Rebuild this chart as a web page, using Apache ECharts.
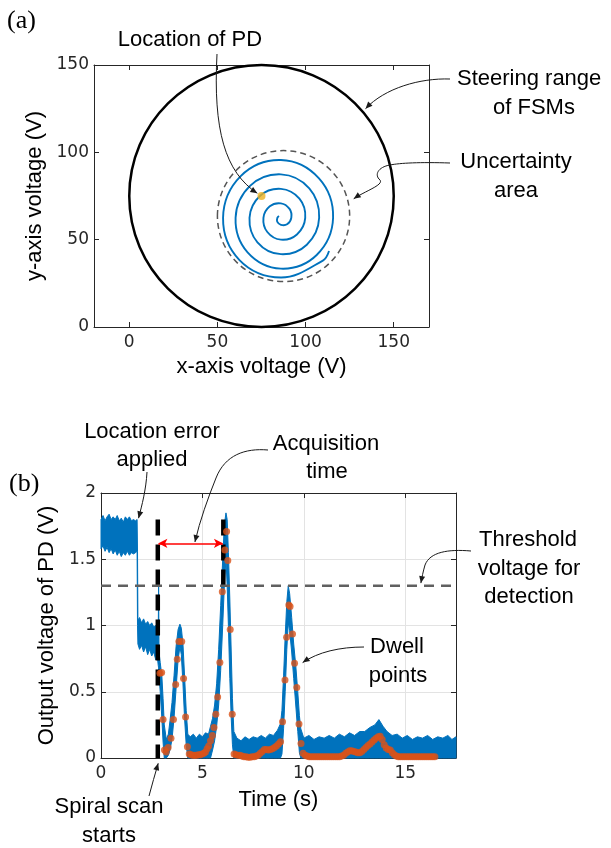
<!DOCTYPE html>
<html><head><meta charset="utf-8">
<script src="https://cdn.jsdelivr.net/npm/echarts@6/dist/echarts.min.js"></script>
<style>html,body{margin:0;padding:0;background:#fff}#c{width:611px;height:848px}</style>
</head><body><div id="c"></div>
<script>
// ---------------- panel (a) data ----------------
const aXTicks = [0, 50, 100, 150];
const aYTicks = [0, 50, 100, 150];
const steeringCircle = [75, 75, 75];        // cx, cy, r (V)
const uncertaintyCircle = [87.5, 63.5, 37.5];
const pdLocation = [75, 75];
const spiralX = [84.9, 84.0, 83.9, 86.0, 89.5, 91.9, 90.9, 86.0, 79.7, 76.1, 78.3, 86.0, 95.1, 99.8, 96.5, 86.0, 74.1, 68.2, 72.7, 86.0, 100.7, 107.7, 102.1, 86.0, 68.5, 60.3, 67.1, 86.0, 106.3, 115.6, 107.6, 86.0, 63.2, 53.2, 62.5, 86.0, 109.8, 113.3];
const spiralY = [63.6, 62.5, 60.3, 58.5, 58.8, 62.5, 67.6, 70.8, 69.1, 62.5, 54.4, 50.0, 53.0, 62.5, 73.5, 79.1, 75.0, 62.5, 48.5, 41.7, 47.1, 62.5, 79.4, 87.4, 80.8, 62.5, 42.7, 33.4, 41.2, 62.5, 85.1, 95.6, 86.4, 62.5, 38.3, 28.3, 38.0, 43.5];

// ---------------- panel (b) data ----------------
const bXTicks = [0, 5, 10, 15];
const bYTicks = [0, 0.5, 1, 1.5, 2];
// PD output: envelope of the noisy trace (time, lower edge, upper edge)
const sigT  = [0.00,0.10,0.20,0.30,0.40,0.50,0.60,0.70,0.80,0.90,1.00,1.10,1.20,1.30,1.40,1.50,1.60,1.70,1.78,1.80,1.82,1.90,2.00,2.10,2.20,2.30,2.40,2.50,2.60,2.70,2.78,2.82,2.84,2.86,2.92,3.00,3.06,3.12,3.22,3.32,3.40,3.50,3.60,3.70,3.80,3.89,3.96,4.04,4.12,4.20,4.28,4.40,4.55,4.70,4.85,5.00,5.15,5.30,5.40,5.50,5.60,5.70,5.80,5.90,6.00,6.08,6.16,6.22,6.28,6.35,6.42,6.48,6.55,6.70,6.90,7.10,7.30,7.50,7.70,7.90,8.10,8.30,8.50,8.70,8.85,8.92,9.00,9.08,9.16,9.23,9.30,9.40,9.50,9.60,9.70,9.78,9.85,10.00,10.25,10.50,10.75,11.00,11.25,11.50,11.75,12.00,12.25,12.50,12.75,13.00,13.25,13.50,13.70,13.90,14.10,14.35,14.60,14.85,15.10,15.35,15.60,15.85,16.10,16.35,16.60,16.85,17.10,17.30,17.50];
const sigLo = [1.58,1.60,1.56,1.59,1.55,1.58,1.54,1.57,1.53,1.56,1.52,1.55,1.53,1.56,1.53,1.55,1.54,1.55,1.56,1.00,0.86,0.82,0.85,0.80,0.84,0.78,0.82,0.77,0.80,0.74,0.76,0.70,0.68,0.62,0.50,0.30,0.12,0.00,0.00,0.02,0.06,0.14,0.30,0.52,0.74,0.84,0.78,0.56,0.30,0.10,0.00,0,0,0,0,0,0,0,0,0.06,0.13,0.24,0.40,0.66,1.00,1.30,1.50,1.30,1.00,0.60,0.30,0.10,0,0,0,0,0,0,0,0,0,0,0,0,0,0.03,0.22,0.50,0.82,1.02,0.96,0.80,0.60,0.40,0.20,0.04,0,0,0,0,0,0,0,0,0,0,0,0,0,0,0,0,0,0,0,0,0,0,0,0,0,0,0,0,0,0,0,0,0];
const sigHi = [1.80,1.83,1.79,1.82,1.84,1.80,1.82,1.80,1.83,1.79,1.81,1.78,1.82,1.80,1.82,1.79,1.80,1.79,1.80,1.56,1.04,1.06,1.02,1.05,1.01,1.03,1.00,1.02,0.99,1.00,0.97,0.90,1.30,0.80,0.72,0.62,0.45,0.25,0.14,0.18,0.28,0.42,0.62,0.84,0.97,1.01,0.98,0.86,0.62,0.36,0.18,0.16,0.18,0.15,0.18,0.16,0.19,0.18,0.24,0.30,0.40,0.56,0.82,1.15,1.50,1.76,1.85,1.80,1.55,1.20,0.80,0.45,0.20,0.15,0.13,0.16,0.14,0.16,0.15,0.17,0.15,0.18,0.17,0.21,0.26,0.36,0.62,0.92,1.18,1.30,1.24,1.06,0.86,0.70,0.50,0.32,0.22,0.15,0.17,0.14,0.16,0.15,0.17,0.15,0.18,0.16,0.19,0.17,0.20,0.20,0.23,0.25,0.29,0.24,0.20,0.17,0.18,0.15,0.17,0.14,0.16,0.15,0.17,0.14,0.16,0.15,0.17,0.14,0.16];
// dwell points of the spiral scan
const dwellT = [2.91,2.99,3.06,3.13,3.21,3.31,3.45,3.57,3.68,3.76,3.84,3.98,4.07,4.17,4.26,4.35,4.44,4.53,4.62,4.71,4.80,4.89,4.98,5.07,5.15,5.23,5.31,5.40,5.49,5.57,5.66,5.75,5.86,5.98,6.11,6.19,6.25,6.37,6.47,6.56,6.65,6.75,6.85,6.95,7.05,7.15,7.25,7.35,7.45,7.55,7.65,7.75,7.85,7.95,8.05,8.15,8.25,8.35,8.45,8.55,8.65,8.75,8.85,8.95,9.07,9.15,9.26,9.32,9.44,9.54,9.65,9.76,9.86,9.96,10.06,10.16,10.26,10.36,10.46,10.56,10.66,10.76,10.86,10.96,11.06,11.16,11.26,11.36,11.46,11.56,11.66,11.76,11.86,11.96,12.06,12.16,12.26,12.36,12.46,12.56,12.66,12.76,12.86,12.96,13.06,13.16,13.26,13.36,13.46,13.56,13.66,13.76,13.86,13.96,14.06,14.16,14.26,14.36,14.46,14.56,14.66,14.76,14.86,14.96,15.06,15.16,15.26,15.36,15.46,15.56,15.66,15.76,15.86,15.96,16.06,16.16,16.26,16.36,16.46];
const dwellV = [0.64,0.645,0.29,0.06,0.045,0.08,0.15,0.29,0.555,0.745,0.88,0.88,0.60,0.31,0.085,0.03,0.025,0.02,0.02,0.02,0.025,0.025,0.03,0.035,0.045,0.07,0.09,0.13,0.17,0.23,0.33,0.46,0.72,1.255,1.57,1.71,1.49,0.97,0.33,0.03,0.025,0.02,0.02,0.015,0.01,0.01,0.005,0.005,0.01,0.01,0.015,0.02,0.035,0.05,0.065,0.065,0.06,0.065,0.07,0.08,0.09,0.105,0.123,0.274,0.589,0.911,1.155,1.143,0.936,0.715,0.533,0.257,0.11,0.035,0.02,0.015,0.01,0.01,0.01,0.01,0.01,0.01,0.01,0.01,0.01,0.01,0.01,0.01,0.01,0.01,0.01,0.01,0.015,0.02,0.035,0.045,0.055,0.055,0.05,0.045,0.04,0.04,0.05,0.065,0.08,0.095,0.105,0.12,0.135,0.15,0.16,0.165,0.14,0.10,0.075,0.065,0.06,0.04,0.025,0.015,0.01,0.01,0.01,0.01,0.01,0.01,0.01,0.01,0.01,0.01,0.01,0.01,0.01,0.01,0.01,0.01,0.01,0.01,0.01,0.01];
const thresholdV = 1.3;
const scanStartT = 2.8;
const detectT = 6.03;
const acqArrowV = 1.62;

// ---------------- chart ----------------
const chart = echarts.init(document.getElementById('c'), null, {renderer: 'canvas', width: 611, height: 848});
const AX = '#262626';
const SANS = 'Liberation Sans, Arial, sans-serif';
const tickLabel = {fontFamily: 'DejaVu Sans', fontSize: 17, color: AX};

function axis(o) {
  const base = {
    type: 'value',
    axisLine: {show: true, onZero: false, lineStyle: {color: AX, width: 1}},
    axisTick: {show: true, inside: true, length: 5, lineStyle: {color: AX, width: 1}},
    splitLine: {show: false},
    axisLabel: {show: false}
  };
  return Object.assign(base, o);
}
const zip = (a, b) => a.map((v, i) => [v, b[i]]);

const option = {
  animation: false,
  backgroundColor: '#fff',
  grid: [
    {left: 94, top: 65, width: 335, height: 262, outerBoundsMode: 'none', containLabel: false},
    {left: 101, top: 493, width: 355, height: 265, outerBoundsMode: 'none', containLabel: false}
  ],
  xAxis: [
    axis({gridIndex: 0, min: -20, max: 170, position: 'bottom',
      axisTick: {show: true, inside: true, length: 5, customValues: aXTicks, lineStyle: {color: AX}},
      axisLabel: Object.assign({show: true, customValues: aXTicks, margin: 7}, tickLabel),
      name: 'x-axis voltage (V)', nameLocation: 'middle', nameGap: 29,
      nameTextStyle: {fontFamily: SANS, fontSize: 22, color: '#000'}}),
    axis({gridIndex: 0, min: -20, max: 170, position: 'top',
      axisTick: {show: true, inside: true, length: 5, customValues: aXTicks, lineStyle: {color: AX}}}),
    axis({gridIndex: 1, min: 0, max: 17.5, interval: 5, position: 'bottom',
      axisTick: {show: true, inside: true, length: 5, customValues: bXTicks, lineStyle: {color: AX}},
      axisLabel: Object.assign({show: true, customValues: bXTicks, margin: 7}, tickLabel),
      splitLine: {show: true, lineStyle: {color: '#E3E3E3', width: 1}},
      name: 'Time (s)', nameLocation: 'middle', nameGap: 31,
      nameTextStyle: {fontFamily: SANS, fontSize: 22, color: '#000'}}),
    axis({gridIndex: 1, min: 0, max: 17.5, interval: 5, position: 'top',
      axisTick: {show: true, inside: true, length: 5, customValues: bXTicks, lineStyle: {color: AX}}})
  ],
  yAxis: [
    axis({gridIndex: 0, min: 0, max: 150, interval: 50, position: 'left',
      axisLabel: Object.assign({show: true, margin: 5}, tickLabel),
      name: 'y-axis voltage (V)', nameLocation: 'middle', nameGap: 46,
      nameTextStyle: {fontFamily: SANS, fontSize: 22, color: '#000'}}),
    axis({gridIndex: 0, min: 0, max: 150, interval: 50, position: 'right'}),
    axis({gridIndex: 1, min: 0, max: 2, interval: 0.5, position: 'left',
      axisLabel: Object.assign({show: true, margin: 5}, tickLabel),
      splitLine: {show: true, lineStyle: {color: '#E3E3E3', width: 1}},
      name: 'Output voltage of PD (V)', nameLocation: 'middle', nameGap: 32,
      nameTextStyle: {fontFamily: SANS, fontSize: 22, color: '#000'}}),
    axis({gridIndex: 1, min: 0, max: 2, interval: 0.5, position: 'right'})
  ],
  series: [
    // (a) steering range of FSMs
    {type: 'custom', xAxisIndex: 0, yAxisIndex: 0, silent: true, z: 3,
      data: [steeringCircle], encode: {x: 0, y: 1},
      renderItem: (p, api) => {
        const c = api.coord([api.value(0), api.value(1)]);
        const s = api.size([api.value(2), api.value(2)]);
        return {type: 'ellipse', shape: {cx: c[0], cy: c[1], rx: s[0], ry: s[1]},
          style: {fill: 'none', stroke: '#000', lineWidth: 2.5}};
      }},
    // (a) uncertainty area
    {type: 'custom', xAxisIndex: 0, yAxisIndex: 0, silent: true, z: 3,
      data: [uncertaintyCircle], encode: {x: 0, y: 1},
      renderItem: (p, api) => {
        const c = api.coord([api.value(0), api.value(1)]);
        const s = api.size([api.value(2), api.value(2)]);
        return {type: 'ellipse', shape: {cx: c[0], cy: c[1], rx: s[0], ry: s[1]},
          style: {fill: 'none', stroke: '#555', lineWidth: 1.5, lineDash: [6, 4]}};
      }},
    // (a) spiral scan path
    {type: 'custom', xAxisIndex: 0, yAxisIndex: 0, silent: true, z: 4,
      data: [[spiralX[0], spiralY[0]]], encode: {x: 0, y: 1},
      renderItem: (p, api) => {
        const pts = spiralX.map((x, i) => api.coord([x, spiralY[i]]));
        return {type: 'polyline', shape: {points: pts, smooth: 0.38},
          style: {fill: 'none', stroke: '#0072BD', lineWidth: 1.9}};
      }},
    // (a) PD location
    {type: 'scatter', xAxisIndex: 0, yAxisIndex: 0, data: [pdLocation], symbolSize: 8, z: 5,
      itemStyle: {color: '#EDB120'}},
    // (b) PD output trace (envelope)
    {type: 'custom', xAxisIndex: 2, yAxisIndex: 2, silent: true, z: 2,
      data: [[0, 0]], encode: {x: 0, y: 1},
      renderItem: (p, api) => {
        const pts = [];
        for (let i = 0; i < sigT.length; i++) pts.push(api.coord([sigT[i], sigHi[i]]));
        for (let i = sigT.length - 1; i >= 0; i--) pts.push(api.coord([sigT[i], sigLo[i]]));
        return {type: 'polygon', shape: {points: pts},
          style: {fill: '#0072BD', stroke: '#0072BD', lineWidth: 1}};
      }},
    // (b) spiral scan starts (black dashed)
    {type: 'line', xAxisIndex: 2, yAxisIndex: 2, data: [[scanStartT, 1.8], [scanStartT, 0]],
      symbol: 'none', z: 3, lineStyle: {color: '#000', width: 4.5, type: [16, 9]}},
    {type: 'line', xAxisIndex: 2, yAxisIndex: 2, data: [[detectT, 1.8], [detectT, thresholdV - 0.01]],
      symbol: 'none', z: 3, lineStyle: {color: '#000', width: 4.5, type: [16, 9]}},
    // (b) threshold
    {type: 'line', xAxisIndex: 2, yAxisIndex: 2, data: [[0, thresholdV], [17.5, thresholdV]],
      symbol: 'none', z: 3, lineStyle: {color: '#606060', width: 2.5, type: [10, 7]},
      markLine: {silent: true, symbol: ['arrow', 'arrow'], symbolSize: [7, 9], label: {show: false},
        lineStyle: {color: '#FF0000', width: 1.5, type: 'solid'},
        data: [[{coord: [scanStartT + 0.03, acqArrowV]}, {coord: [detectT - 0.02, acqArrowV]}]]}},
    // (b) dwell points
    {type: 'scatter', xAxisIndex: 2, yAxisIndex: 2, data: zip(dwellT, dwellV), symbolSize: 7, z: 4,
      itemStyle: {color: '#D95319'}}
  ]
};
chart.setOption(option);

// ---------------- annotations ----------------
function textEl(t, x, y, align, size, family) {
  return {type: 'text', x: x, y: y, z: 20, silent: true,
    style: {text: t, fontFamily: family || SANS, fontSize: size || 22, fill: '#000',
      align: align || 'center', verticalAlign: 'middle'}};
}
const texts = [
  textEl('(a)', 7, 21, 'left', 26, 'Liberation Serif, Times New Roman, serif'),
  textEl('Location of PD', 190, 40),
  textEl('Steering range', 457, 79, 'left'),
  textEl('of FSMs', 534, 108),
  textEl('Uncertainty', 516, 162),
  textEl('area', 516, 191),
  textEl('(b)', 9, 484, 'left', 26, 'Liberation Serif, Times New Roman, serif'),
  textEl('Location error', 152, 432),
  textEl('applied', 152, 460),
  textEl('Acquisition', 326, 444),
  textEl('time', 327, 472),
  textEl('Threshold', 528, 540),
  textEl('voltage for', 529, 569),
  textEl('detection', 529, 597),
  textEl('Dwell', 397, 647),
  textEl('points', 398, 676),
  textEl('Spiral scan', 109, 807),
  textEl('starts', 109, 836)
];
// arrows: start point, cubic segments (last one ends at the data tip)
const arrows = [
  {s: 3, tip: pdLocation, back: 5, start: [217, 54], segs: [[[213, 130], [225, 172]]]},
  {s: 3, tip: [134, 125], back: 0, start: [450, 79], segs: [[[420, 78], [385, 88]]]},
  {s: 3, tip: [127.3, 73.4], back: 0, start: [450, 163], segs: [[[420, 162], [400, 163], [390, 165]], [[378, 167], [374, 175], [380, 180]], [[384, 185], [365, 191]]]},
  {s: 8, tip: [1.85, 1.81], back: 0, start: [147, 472], segs: [[[146, 490], [142, 505]]]},
  {s: 8, tip: [4.63, 1.63], back: 0, start: [268, 450], segs: [[[245, 448], [225, 455], [216, 478]], [[208, 498], [200, 520]]]},
  {s: 8, tip: [15.77, 1.32], back: 0, start: [471, 551], segs: [[[448, 549], [430, 552], [425, 565]], [[423, 572], [422, 577]]]},
  {s: 8, tip: [9.94, 0.72], back: 0, start: [364, 647], segs: [[[340, 647], [318, 652]]]},
  {s: 8, tip: [2.82, -0.04], back: 0, start: [149, 796], segs: [[[152, 785], [155, 774]]]}
];
const arrowEls = [];
arrows.forEach(a => {
  let tip = chart.convertToPixel({seriesIndex: a.s}, a.tip);
  const lastSeg = a.segs[a.segs.length - 1];
  const c2 = lastSeg[1];
  let dx = tip[0] - c2[0], dy = tip[1] - c2[1];
  const L = Math.hypot(dx, dy); dx /= L; dy /= L;
  tip = [tip[0] - dx * a.back, tip[1] - dy * a.back];
  let cur = a.start;
  a.segs.forEach((sg, i) => {
    const end = (i === a.segs.length - 1) ? tip : sg[2];
    arrowEls.push({type: 'bezierCurve', z: 20, silent: true,
      shape: {x1: cur[0], y1: cur[1], cpx1: sg[0][0], cpy1: sg[0][1], cpx2: sg[1][0], cpy2: sg[1][1], x2: end[0], y2: end[1]},
      style: {fill: null, stroke: '#1a1a1a', lineWidth: 1}});
    cur = end;
  });
  const AL = 7, AW = 3;
  const bx = tip[0] - dx * AL, by = tip[1] - dy * AL;
  arrowEls.push({type: 'polygon', z: 21, silent: true,
    shape: {points: [tip, [bx - dy * AW, by + dx * AW], [bx + dy * AW, by - dx * AW]]},
    style: {fill: '#1a1a1a'}});
});
chart.setOption({graphic: {elements: texts.concat(arrowEls)}});
</script>
</body></html>
